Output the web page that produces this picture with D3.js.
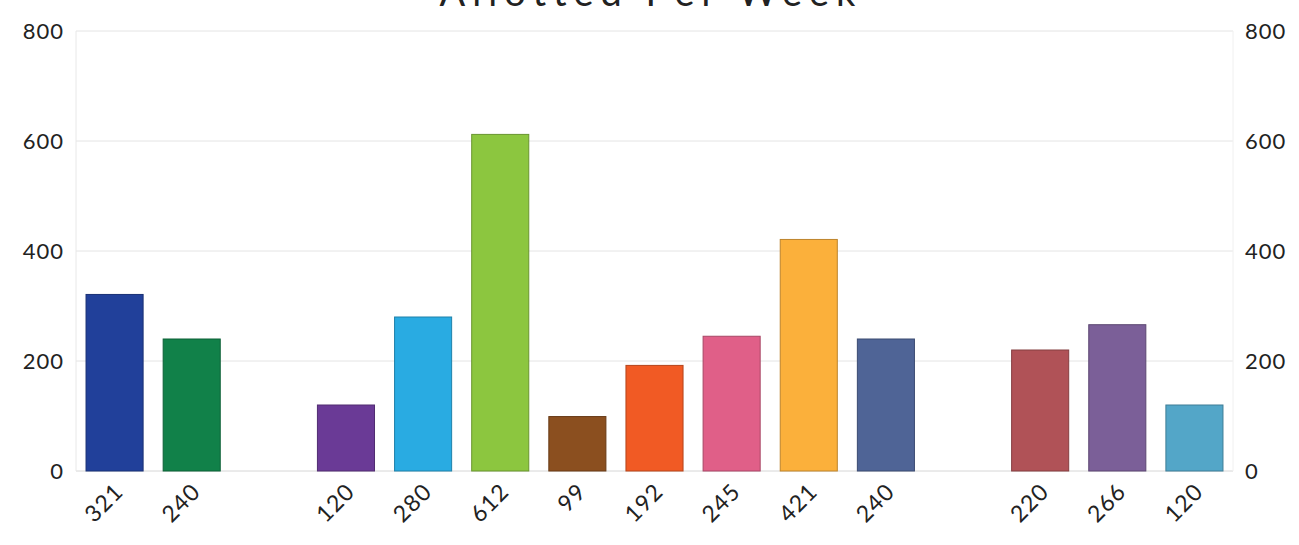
<!DOCTYPE html>
<html>
<head>
<meta charset="utf-8">
<script src="https://cdn.jsdelivr.net/npm/d3@7"></script>
<style>
  body { margin: 0; background: #fff; }
  #chart { width: 1299px; height: 545px; }
</style>
</head>
<body>
<div id="chart"></div>
<script>
const categories = ["321", "240", "", "120", "280", "612", "99", "192", "245", "421", "240", "", "220", "266", "120"];
const values = [321, 240, null, 120, 280, 612, 99, 192, 245, 421, 240, null, 220, 266, 120];
const barColors = [
  "#21409a", "#118149", "#cccccc", "#6a3a96", "#29abe2",
  "#8cc63f", "#8b4f1f", "#f15a24", "#e05f88", "#fbb03b",
  "#4f6496", "#cccccc", "#b05257", "#7b5f98", "#53a6c8"
];
const yTicks = [0, 200, 400, 600, 800];

const width = 1299;
const height = 545;
const margin = { top: 31, right: 66, bottom: 74, left: 76 };
const font = "Lato, 'Open Sans', sans-serif";

const svg = d3.select("#chart")
  .append("svg")
  .attr("width", width)
  .attr("height", height)
  .style("font-family", font);

const x = d3.scaleBand()
  .domain(d3.range(categories.length))
  .range([margin.left, width - margin.right])
  .paddingInner(0.26)
  .paddingOuter(0.13);

const y = d3.scaleLinear()
  .domain([0, 800])
  .range([height - margin.bottom, margin.top]);

// gridlines
svg.append("g")
  .selectAll("line")
  .data(yTicks)
  .join("line")
  .attr("x1", margin.left)
  .attr("x2", width - margin.right)
  .attr("y1", d => y(d))
  .attr("y2", d => y(d))
  .attr("stroke", d => d === 0 ? "#d6d6d6" : "#e4e4e4")
  .attr("stroke-width", 1);

// frame sides
svg.append("line")
  .attr("x1", margin.left).attr("x2", margin.left)
  .attr("y1", y(800)).attr("y2", y(0))
  .attr("stroke", "#e8e8e8");
svg.append("line")
  .attr("x1", width - margin.right).attr("x2", width - margin.right)
  .attr("y1", y(800)).attr("y2", y(0))
  .attr("stroke", "#f0f0f0");

// left axis
svg.append("g")
  .attr("transform", `translate(${margin.left},0)`)
  .call(d3.axisLeft(y).tickValues(yTicks).tickSize(0).tickPadding(12))
  .call(g => g.select(".domain").remove())
  .call(g => g.selectAll("text")
    .attr("fill", "#222")
    .style("font-family", font)
    .style("font-size", "22px")
    .style("letter-spacing", "1px"));

// right axis
svg.append("g")
  .attr("transform", `translate(${width - margin.right},0)`)
  .call(d3.axisRight(y).tickValues(yTicks).tickSize(0).tickPadding(12))
  .call(g => g.select(".domain").remove())
  .call(g => g.selectAll("text")
    .attr("fill", "#222")
    .style("font-family", font)
    .style("font-size", "22px")
    .style("letter-spacing", "1px"));

// bars
const data = values.map((v, i) => ({ i, v, label: categories[i] })).filter(d => d.v != null);

svg.append("g")
  .selectAll("rect")
  .data(data)
  .join("rect")
  .attr("x", d => x(d.i))
  .attr("width", x.bandwidth())
  .attr("y", d => y(d.v))
  .attr("height", d => y(0) - y(d.v))
  .attr("fill", d => barColors[d.i])
  .attr("stroke", d => d3.color(barColors[d.i]).darker(0.8))
  .attr("stroke-width", 1);

// x labels
svg.append("g")
  .selectAll("text")
  .data(data)
  .join("text")
  .attr("transform", d => `translate(${x(d.i) + x.bandwidth() / 2 - 2},${y(0) + 10}) rotate(-45)`)
  .attr("text-anchor", "end")
  .attr("dy", "0.75em")
  .attr("fill", "#222")
  .style("font-size", "23px")
  .style("letter-spacing", "1px")
  .text(d => d.label);

// title (partly cut off at top, as in the original)
svg.append("text")
  .attr("x", 651)
  .attr("y", 6)
  .attr("text-anchor", "middle")
  .attr("fill", "#222")
  .style("font-size", "38px")
  .style("letter-spacing", "7px")
  .text("Allotted Per Week");
</script>
</body>
</html>
